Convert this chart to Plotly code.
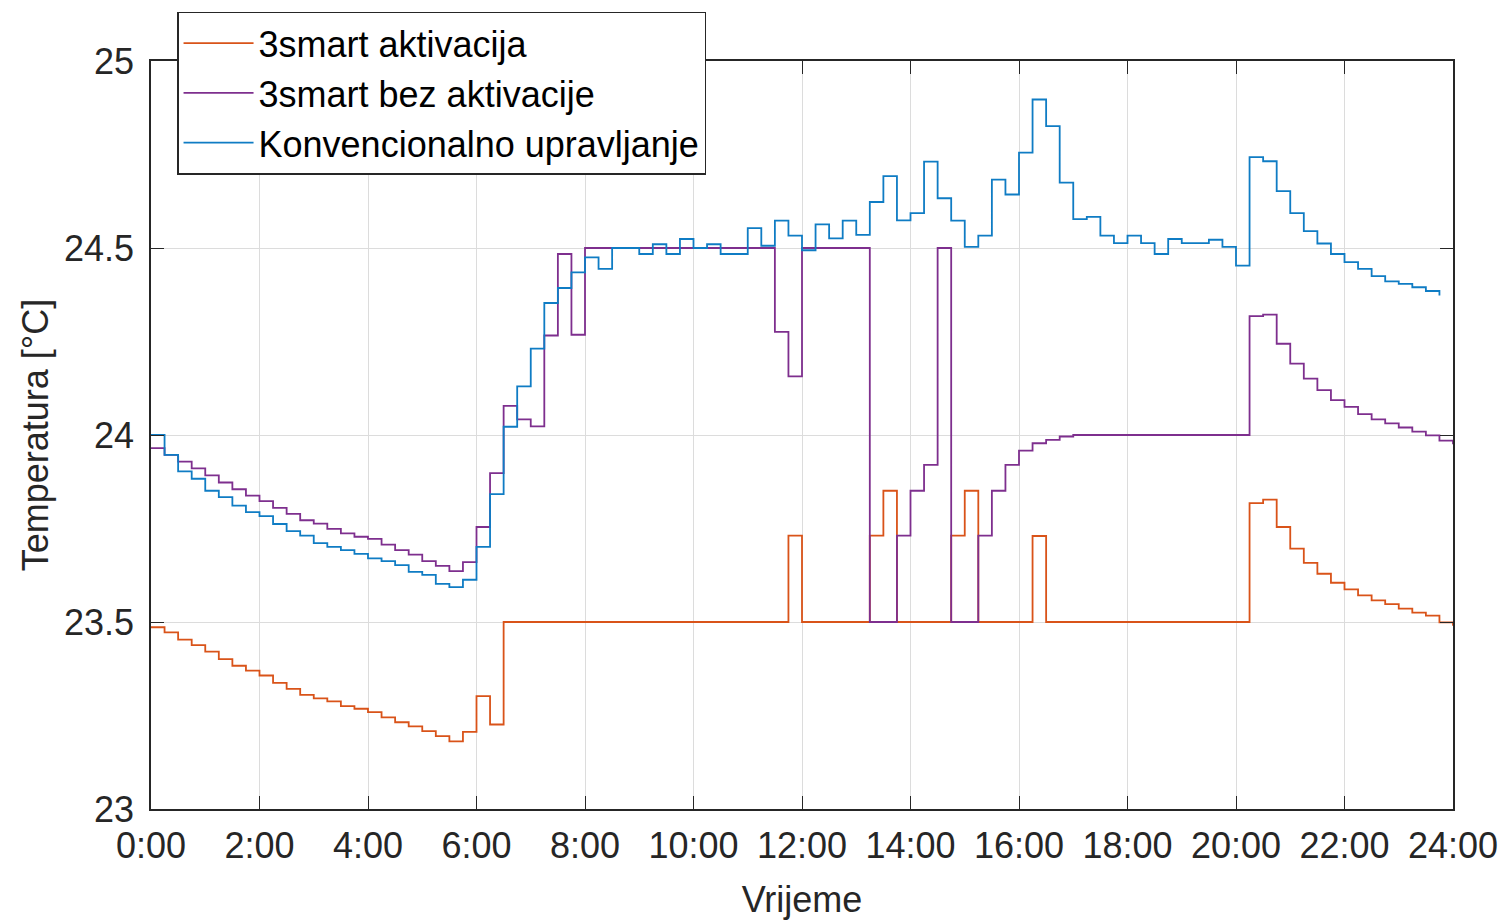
import plotly.graph_objects as go

# Room temperature sampled every 15 minutes over one day
STEP_HOURS = 0.25

temp_3smart_aktivacija = [
    23.486, 23.472, 23.453, 23.438, 23.421, 23.401, 23.383, 23.370,
    23.357, 23.337, 23.321, 23.305, 23.296, 23.288, 23.275, 23.268,
    23.259, 23.245, 23.232, 23.221, 23.208, 23.195, 23.181, 23.206,
    23.302, 23.226, 23.500, 23.500, 23.500, 23.500, 23.500, 23.500,
    23.500, 23.500, 23.500, 23.500, 23.500, 23.500, 23.500, 23.500,
    23.500, 23.500, 23.500, 23.500, 23.500, 23.500, 23.500, 23.731,
    23.500, 23.500, 23.500, 23.500, 23.500, 23.731, 23.851, 23.500,
    23.500, 23.500, 23.500, 23.731, 23.851, 23.500, 23.500, 23.500,
    23.500, 23.730, 23.500, 23.500, 23.500, 23.500, 23.500, 23.500,
    23.500, 23.500, 23.500, 23.500, 23.500, 23.500, 23.500, 23.500,
    23.500, 23.818, 23.827, 23.754, 23.696, 23.658, 23.629, 23.605,
    23.587, 23.571, 23.558, 23.548, 23.536, 23.525, 23.517, 23.499,
    23.490,
]

temp_3smart_bez_aktivacije = [
    23.965, 23.947, 23.929, 23.911, 23.892, 23.873, 23.855, 23.838,
    23.823, 23.805, 23.789, 23.772, 23.763, 23.749, 23.737, 23.728,
    23.722, 23.707, 23.692, 23.680, 23.663, 23.650, 23.636, 23.660,
    23.754, 23.898, 24.078, 24.042, 24.023, 24.266, 24.484, 24.268,
    24.500, 24.500, 24.500, 24.500, 24.500, 24.500, 24.500, 24.500,
    24.500, 24.500, 24.500, 24.500, 24.500, 24.500, 24.276, 24.157,
    24.500, 24.500, 24.500, 24.500, 24.500, 23.500, 23.500, 23.731,
    23.851, 23.920, 24.500, 23.500, 23.500, 23.731, 23.851, 23.920,
    23.958, 23.978, 23.987, 23.996, 24.000, 24.000, 24.000, 24.000,
    24.000, 24.000, 24.000, 24.000, 24.000, 24.000, 24.000, 24.000,
    24.000, 24.318, 24.322, 24.244, 24.191, 24.151, 24.120, 24.093,
    24.075, 24.056, 24.042, 24.031, 24.020, 24.009, 23.999, 23.985,
    23.975,
]

temp_konvencionalno = [
    24.000, 23.947, 23.903, 23.883, 23.851, 23.834, 23.811, 23.794,
    23.783, 23.762, 23.743, 23.731, 23.711, 23.701, 23.692, 23.682,
    23.670, 23.663, 23.652, 23.634, 23.626, 23.602, 23.593, 23.613,
    23.701, 23.842, 24.022, 24.130, 24.231, 24.353, 24.393, 24.435,
    24.475, 24.444, 24.500, 24.500, 24.484, 24.510, 24.484, 24.524,
    24.500, 24.510, 24.484, 24.484, 24.553, 24.506, 24.573, 24.533,
    24.494, 24.563, 24.526, 24.573, 24.535, 24.623, 24.692, 24.574,
    24.593, 24.731, 24.633, 24.573, 24.503, 24.533, 24.683, 24.643,
    24.755, 24.897, 24.826, 24.675, 24.577, 24.583, 24.533, 24.513,
    24.533, 24.513, 24.484, 24.524, 24.513, 24.513, 24.522, 24.503,
    24.453, 24.743, 24.732, 24.652, 24.593, 24.545, 24.512, 24.484,
    24.462, 24.444, 24.425, 24.411, 24.404, 24.395, 24.385, 24.373,
]

series_names = ["3smart aktivacija", "3smart bez aktivacije", "Konvencionalno upravljanje"]
series_colors = ["#D95319", "#7E2F8E", "#0F7CC4"]

x_tick_hours = [0, 2, 4, 6, 8, 10, 12, 14, 16, 18, 20, 22, 24]
x_tick_labels = ["0:00", "2:00", "4:00", "6:00", "8:00", "10:00", "12:00",
                 "14:00", "16:00", "18:00", "20:00", "22:00", "24:00"]
y_tick_values = [23, 23.5, 24, 24.5, 25]
y_tick_labels = ["23", "23.5", "24", "24.5", "25"]

FONT = "Liberation Sans, Arial, sans-serif"

fig = go.Figure()
for name, color, values in zip(
    series_names,
    series_colors,
    [temp_3smart_aktivacija, temp_3smart_bez_aktivacije, temp_konvencionalno],
):
    hours = [i * STEP_HOURS for i in range(len(values))]
    fig.add_trace(go.Scatter(
        x=hours, y=values, name=name, mode="lines",
        line=dict(color=color, width=1.8, shape="hv"),
    ))

axis_common = dict(
    showline=True, linecolor="#262626", linewidth=1.5, mirror="ticks",
    ticks="inside", ticklen=13, tickwidth=1.2, tickcolor="#262626",
    showgrid=True, gridcolor="#DCDCDC", gridwidth=1.2, zeroline=False,
    automargin=False,
    tickfont=dict(family=FONT, size=36, color="#262626"),
)

fig.update_layout(
    width=1505, height=920,
    margin=dict(l=151, r=52, t=58, b=111),
    paper_bgcolor="white", plot_bgcolor="white",
    font=dict(family=FONT, size=36, color="#262626"),
    showlegend=True,
    legend=dict(
        x=0.02, y=1.066, xanchor="left", yanchor="top",
        bgcolor="white", bordercolor="#262626", borderwidth=1.5,
        font=dict(family=FONT, size=36, color="#000000"),
        tracegroupgap=0, itemwidth=70,
    ),
    xaxis=dict(
        range=[0, 24], tickvals=x_tick_hours, ticktext=x_tick_labels,
        title=dict(text="Vrijeme", font=dict(family=FONT, size=36, color="#262626"), standoff=24),
        ticklabelstandoff=4,
        **axis_common,
    ),
    yaxis=dict(
        range=[23, 25], tickvals=y_tick_values, ticktext=y_tick_labels,
        title=dict(text="Temperatura [°C]", font=dict(family=FONT, size=36, color="#262626"), standoff=4),
        ticklabelstandoff=8,
        **axis_common,
    ),
)

fig.write_html("out.html")
